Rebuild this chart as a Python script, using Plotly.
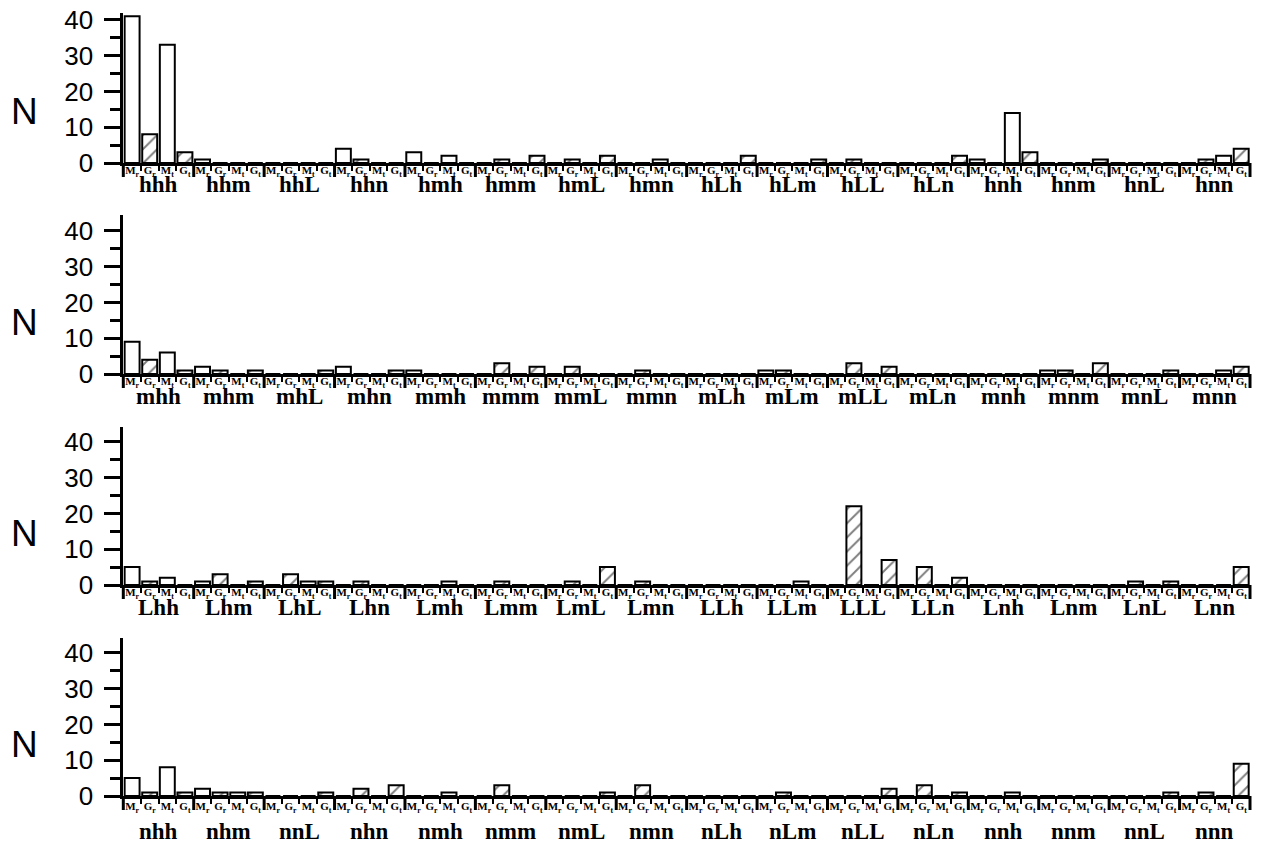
import plotly.graph_objects as go

# ---------------- data ----------------
bar_labels = ["<b>M<sub>r</sub></b>", "<b>G<sub>r</sub></b>", "<b>M<sub>t</sub></b>", "<b>G<sub>t</sub></b>"]

groups_h = ["hhh", "hhm", "hhL", "hhn", "hmh", "hmm", "hmL", "hmn",
            "hLh", "hLm", "hLL", "hLn", "hnh", "hnm", "hnL", "hnn"]
h_Mr = [41, 1, 0, 4, 3, 0, 0, 0, 0, 0, 0, 0, 1, 0, 0, 0]
h_Gr = [8, 0, 0, 1, 0, 1, 1, 0, 0, 0, 1, 0, 0, 0, 0, 1]
h_Mt = [33, 0, 0, 0, 2, 0, 0, 1, 0, 0, 0, 0, 14, 0, 0, 2]
h_Gt = [3, 0, 0, 0, 0, 2, 2, 0, 2, 1, 0, 2, 3, 1, 0, 4]

groups_m = ["mhh", "mhm", "mhL", "mhn", "mmh", "mmm", "mmL", "mmn",
            "mLh", "mLm", "mLL", "mLn", "mnh", "mnm", "mnL", "mnn"]
m_Mr = [9, 2, 0, 2, 1, 0, 0, 0, 0, 1, 0, 0, 0, 1, 0, 0]
m_Gr = [4, 1, 0, 0, 0, 3, 2, 1, 0, 1, 3, 0, 0, 1, 0, 0]
m_Mt = [6, 0, 0, 0, 0, 0, 0, 0, 0, 0, 0, 0, 0, 0, 0, 1]
m_Gt = [1, 1, 1, 1, 0, 2, 0, 0, 0, 0, 2, 0, 0, 3, 1, 2]

groups_L = ["Lhh", "Lhm", "LhL", "Lhn", "Lmh", "Lmm", "LmL", "Lmn",
            "LLh", "LLm", "LLL", "LLn", "Lnh", "Lnm", "LnL", "Lnn"]
L_Mr = [5, 1, 0, 0, 0, 0, 0, 0, 0, 0, 0, 0, 0, 0, 0, 0]
L_Gr = [1, 3, 3, 1, 0, 1, 1, 1, 0, 0, 22, 5, 0, 0, 1, 0]
L_Mt = [2, 0, 1, 0, 1, 0, 0, 0, 0, 1, 0, 0, 0, 0, 0, 0]
L_Gt = [0, 1, 1, 0, 0, 0, 5, 0, 0, 0, 7, 2, 0, 0, 1, 5]

groups_n = ["nhh", "nhm", "nnL", "nhn", "nmh", "nmm", "nmL", "nmn",
            "nLh", "nLm", "nLL", "nLn", "nnh", "nnm", "nnL", "nnn"]
n_Mr = [5, 2, 0, 0, 0, 0, 0, 0, 0, 0, 0, 0, 0, 0, 0, 0]
n_Gr = [1, 1, 0, 2, 0, 3, 0, 3, 0, 1, 0, 3, 0, 0, 0, 1]
n_Mt = [8, 1, 0, 0, 1, 0, 0, 0, 0, 0, 0, 0, 1, 0, 0, 0]
n_Gt = [1, 1, 1, 3, 0, 0, 1, 0, 0, 0, 2, 1, 0, 0, 1, 9]

y_ticks = [0, 10, 20, 30, 40]

panels = [
    (groups_h, [h_Mr, h_Gr, h_Mt, h_Gt]),
    (groups_m, [m_Mr, m_Gr, m_Mt, m_Gt]),
    (groups_L, [L_Mr, L_Gr, L_Mt, L_Gt]),
    (groups_n, [n_Mr, n_Gr, n_Mt, n_Gt]),
]

# ---------------- layout geometry (pixels) ----------------
W, H = 1268, 844
X0, X1 = 123.3, 1250.0
baselines = [163.0, 374.0, 585.0, 796.0]
tops = [13.3, 215.0, 426.7, 638.0]
px_per_unit = 3.58
group_label_off = [21, 22, 22, 35]
bar_label_standoff = [-5, -5, -5, -2]

SERIF = "Liberation Serif, Times New Roman, serif"
SANS = "Liberation Sans, Arial, sans-serif"

fig = go.Figure()
layout = dict(
    width=W, height=H, margin=dict(l=0, r=0, t=0, b=0, pad=0, autoexpand=False),
    paper_bgcolor="white", plot_bgcolor="white", showlegend=False,
)
annotations = []
shapes = []

n_series = 4
for pi, (groups, series) in enumerate(panels):
    idx = pi + 1
    xa = "x" if idx == 1 else f"x{idx}"
    ya = "y" if idx == 1 else f"y{idx}"
    ng = len(groups)
    nbars = ng * n_series
    for k, vals in enumerate(series):
        xs = [g * n_series + k for g in range(ng)]
        hatched = k in (1, 3)
        marker = dict(color="white", line=dict(color="black", width=2))
        if hatched:
            marker["pattern"] = dict(shape="/", fgcolor="black", bgcolor="white",
                                     size=10, solidity=0.2, fillmode="overlay")
        fig.add_trace(go.Bar(x=xs, y=vals, width=0.85, marker=marker,
                             xaxis=xa, yaxis=ya, hoverinfo="skip"))

    b, t = baselines[pi], tops[pi]
    ymax = (b - t) / px_per_unit
    xdom = [X0 / W, X1 / W]
    ydom = [1 - b / H, 1 - t / H]
    centers = list(range(nbars))
    labels = [bar_labels[i % n_series] for i in range(nbars)]
    boundaries = [i - 0.5 for i in range(nbars + 1)]
    layout["xaxis" if idx == 1 else f"xaxis{idx}"] = dict(
        domain=xdom, anchor=ya, range=[-0.5, nbars - 0.5], automargin=False,
        showline=True, linewidth=3, linecolor="black",
        tickmode="array", tickvals=centers, ticktext=labels, ticks="",
        tickangle=0, tickfont=dict(family=SERIF, size=11, color="black"),
        ticklabelstandoff=bar_label_standoff[pi],
        minor=dict(tickmode="array", tickvals=boundaries, ticks="outside",
                   ticklen=5, tickwidth=2, tickcolor="black", showgrid=False),
        showgrid=False, zeroline=False, fixedrange=True,
    )
    layout["yaxis" if idx == 1 else f"yaxis{idx}"] = dict(
        domain=ydom, anchor=xa, range=[0, ymax], automargin=False,
        showline=True, linewidth=3, linecolor="black",
        tickmode="array", tickvals=y_ticks, ticks="outside", ticklen=16,
        tickwidth=3, tickcolor="black",
        tickfont=dict(family=SANS, size=26, color="black"),
        ticklabelstandoff=6,
        minor=dict(tickmode="linear", tick0=0, dtick=5, ticks="outside",
                   ticklen=10, tickwidth=3, tickcolor="black", showgrid=False),
        showgrid=False, zeroline=False, fixedrange=True,
    )
    # long ticks at group boundaries
    seg_h = 14 / (b - t)
    for g in range(ng + 1):
        xd = (g * n_series) / nbars
        shapes.append(dict(type="line", xref=f"{xa} domain", yref=f"{ya} domain",
                           x0=xd, x1=xd, y0=0, y1=-seg_h,
                           line=dict(color="black", width=3)))
    # group labels
    for g, name in enumerate(groups):
        annotations.append(dict(
            x=g * n_series + 1.5, xref=xa,
            y=1 - (b + group_label_off[pi]) / H, yref="paper",
            text=f"<b>{name}</b>", showarrow=False,
            xanchor="center", yanchor="middle",
            font=dict(family=SERIF, size=23, color="black")))
    # axis title N
    annotations.append(dict(
        x=24 / W, xref="paper", y=1 - (b - 52) / H, yref="paper",
        text="N", showarrow=False, xanchor="center", yanchor="middle",
        font=dict(family=SANS, size=37, color="black")))

layout["annotations"] = annotations
layout["shapes"] = shapes
fig.update_layout(**layout)
fig.write_html("out.html")
